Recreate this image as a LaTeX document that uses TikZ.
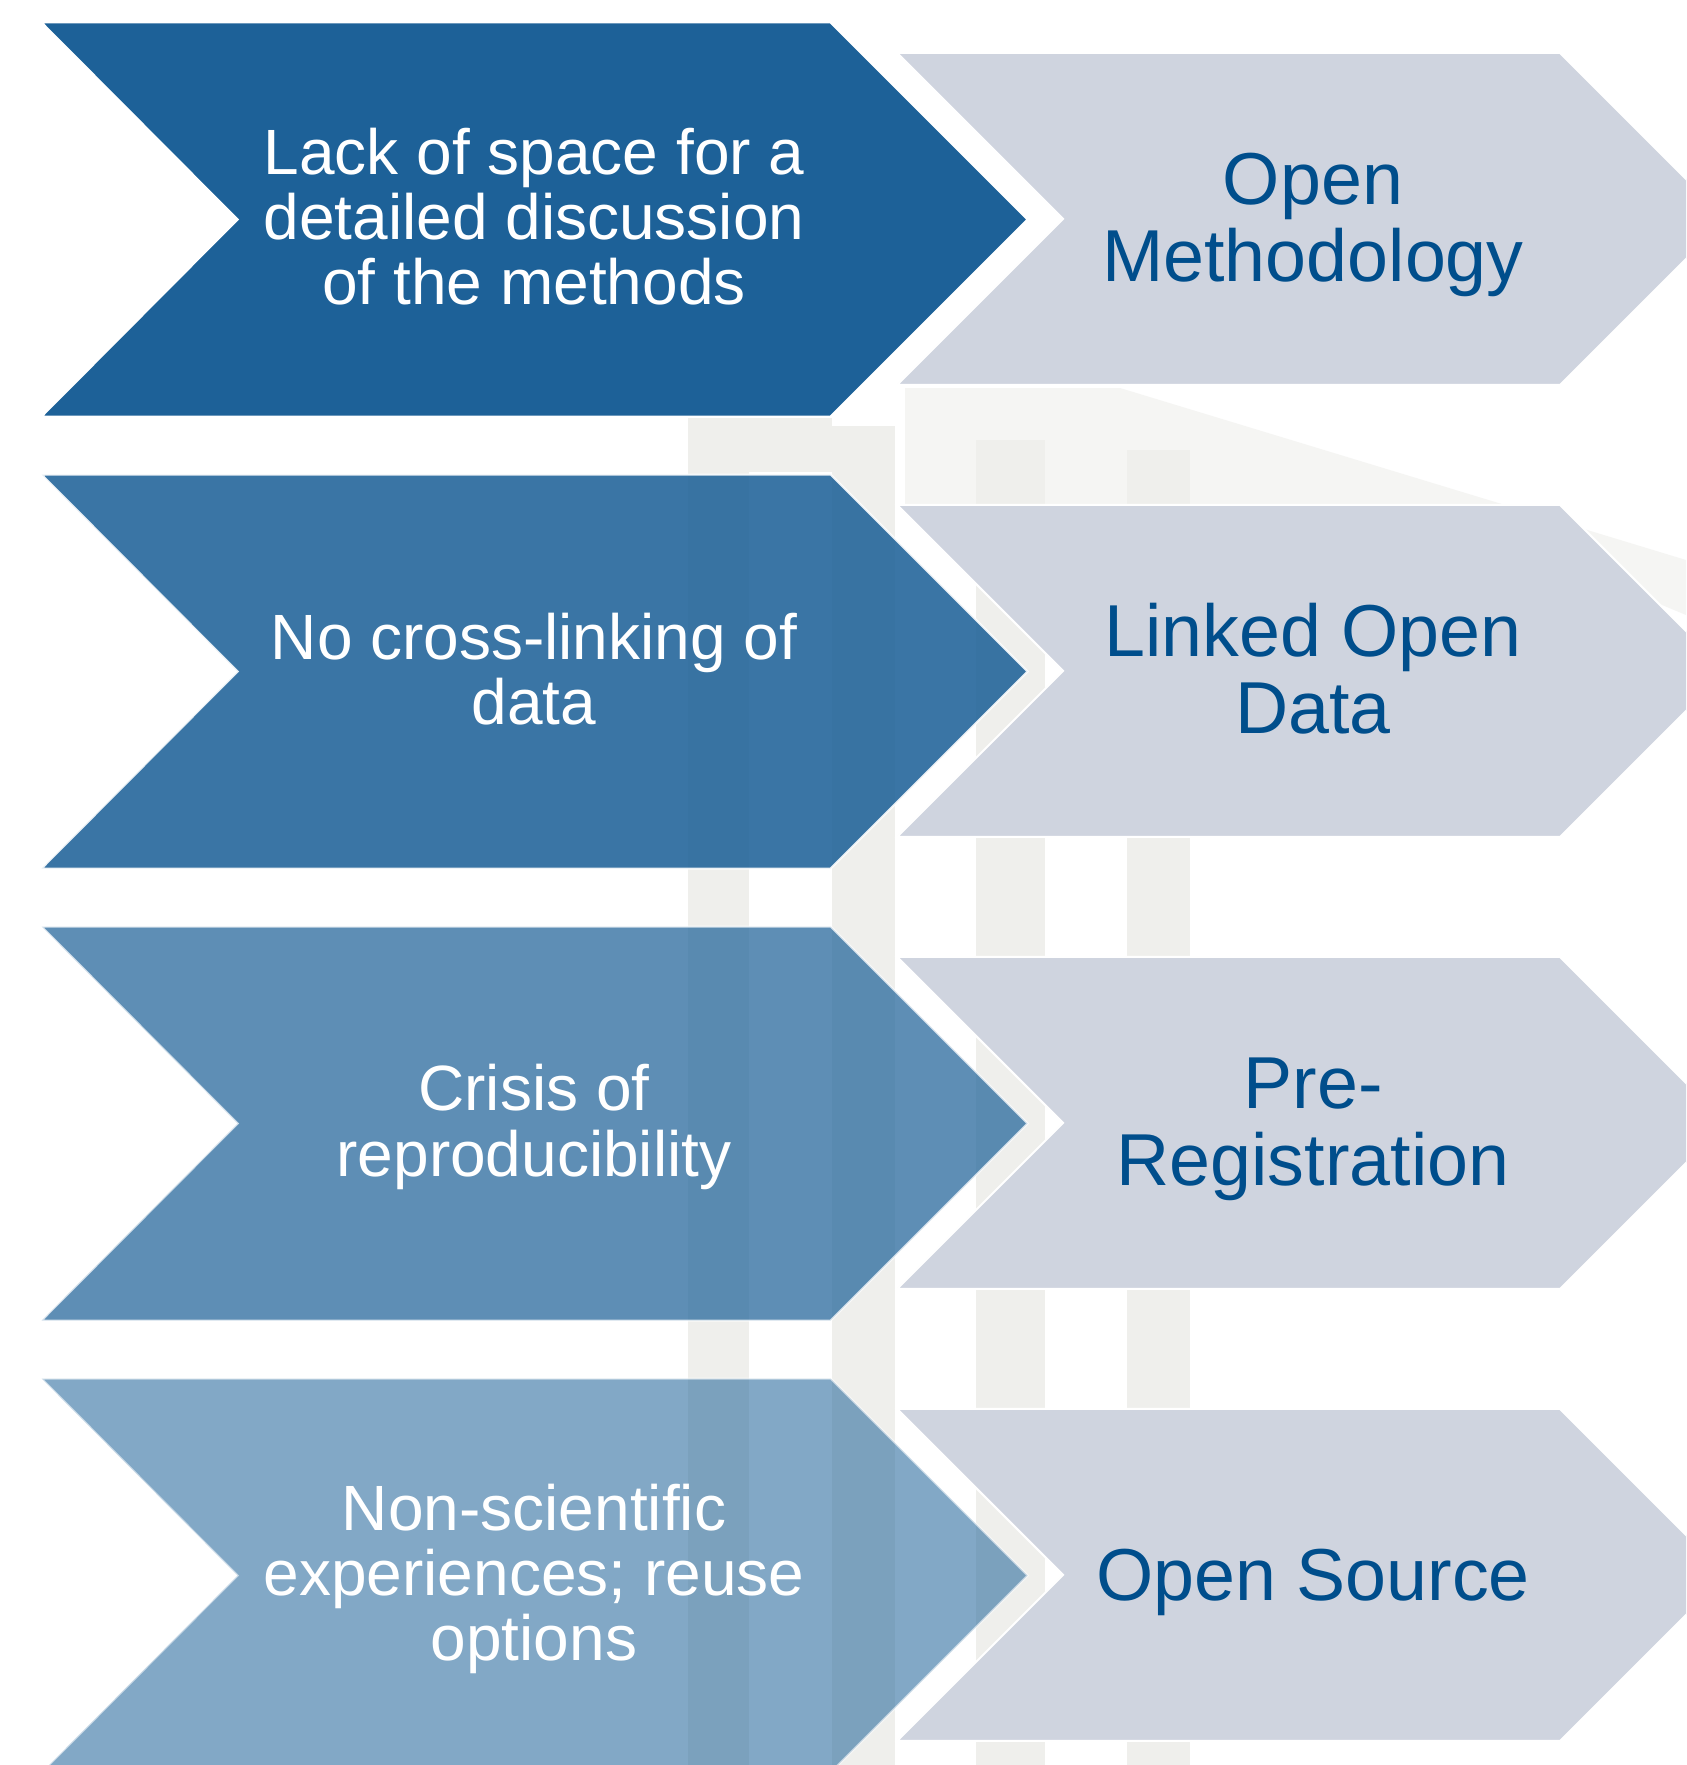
\documentclass[tikz,border=0pt]{standalone}
\usepackage{fontspec}
\setmainfont{Liberation Sans}

\definecolor{probblue}{RGB}{29,97,152}
\definecolor{solgrey}{RGB}{207,212,223}
\definecolor{soltextcol}{RGB}{0,78,140}
\definecolor{haze}{RGB}{239,239,236}

\tikzset{
  probshape/.style={fill=probblue, draw=white, line width=1pt, line join=miter},
  solshape/.style={fill=solgrey, draw=white, line width=1pt, line join=miter},
  probtext/.style={text=white, align=center, inner sep=0pt,
    font=\fontsize{32}{32.65}\selectfont},
  soltext/.style={text=soltextcol, align=center, inner sep=0pt,
    font=\fontsize{36.8}{38.4}\selectfont},
}

\begin{document}
\begin{tikzpicture}[x=0.5pt,y=-0.5pt]
\useasboundingbox (0,0) rectangle (1686,1765);
\clip (0,0) rectangle (1686,1765);
\fill[white] (0,0) rectangle (1686,1765);

% pale background bands
\fill[haze] (688,428) rectangle (749,1765);
\fill[haze] (832,426) rectangle (895,1765);
\fill[haze] (976,440) rectangle (1045,1765);
\fill[haze] (1127,450) rectangle (1190,1765);
\fill[haze] (688,418) rectangle (832,472);
\fill[haze, opacity=0.6] (905,388) -- (1120,388) -- (1686,560) -- (1686,615)
  -- (1420,504) -- (905,504) -- cycle;

% problem chevrons, fading downwards
\foreach \k/\op in {0/1,1/0.87,2/0.71,3/0.55} {
  \pgfmathsetmacro\t{22.5+452*\k}
  \path[probshape, opacity=\op] (41.6,\t) -- ++(789,0) -- ++(197,197)
    -- ++(-197,197) -- ++(-789,0) -- ++(196,-197) -- cycle;
}

% solution chevrons
\foreach \k in {0,1,2,3} {
  \pgfmathsetmacro\t{52.9+452*\k}
  \path[solshape] (897,\t) -- ++(663,0) -- ++(166,166)
    -- ++(-166,166) -- ++(-663,0) -- ++(166,-166) -- cycle;
}

% problem labels
\node[probtext] (p1) at (534,216.5) {Lack of space for a\\detailed discussion\\of the methods};
\node[probtext] (p2) at (534,669) {No cross-linking of\\data};
\node[probtext] (p3) at (534,1127) {Crisis of\\reproducibility};
\node[probtext] (p4) at (534,1579) {Non-scientific\\experiences; reuse\\options};

% solution labels
\node[soltext] (s1) at (1313,225) {Open\\Methodology};
\node[soltext] (s2) at (1313,669) {Linked Open\\Data};
\node[soltext] (s3) at (1313,1129) {Pre-\\Registration};
\node[soltext] (s4) at (1313,1582) {Open Source};
\end{tikzpicture}
\end{document}
